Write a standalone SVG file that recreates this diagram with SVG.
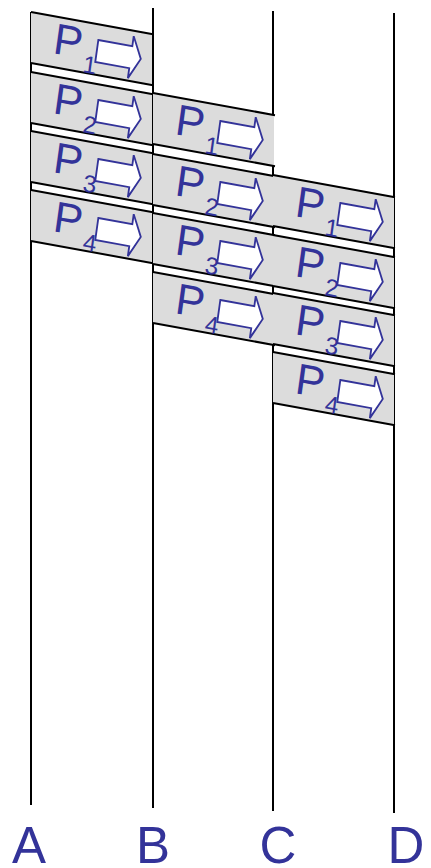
<svg xmlns="http://www.w3.org/2000/svg" xmlns:xlink="http://www.w3.org/1999/xlink" width="431" height="868" viewBox="0 0 431 868">
<style>
.bg{fill:#dcdcdc;stroke:none}
.edge{fill:none;stroke:#000;stroke-width:2}
.lane{stroke:#000;stroke-width:2;fill:none}
.arr{fill:#fff;stroke:#333399;stroke-width:1.8;stroke-linejoin:miter}
.p{font-family:"Liberation Sans",Arial,sans-serif;font-size:43px;fill:#333399}
.s{font-family:"Liberation Sans",Arial,sans-serif;font-size:24px;fill:#333399}
.lbl{font-family:"Liberation Sans",Arial,sans-serif;font-size:51px;fill:#333399;text-anchor:middle}
</style>
<defs>
<g id="pk">
<polygon class="bg" points="0,0 121,22 121,73 0,51"/>
<path class="edge" d="M0,0 L122,22.2 M0,51 L122,73.2"/>
</g>
<polygon id="ar" class="arr" points="0,0 34,0 34,-10 44,11 34,32 34,22 0,22"/>
</defs>
<g id="lanes">
<line class="lane" x1="31" y1="12" x2="31" y2="805"/>
<line class="lane" x1="153" y1="8" x2="153" y2="808"/>
<line class="lane" x1="273" y1="11" x2="273" y2="811"/>
<line class="lane" x1="394" y1="13" x2="394" y2="813"/>
</g>
<g id="A-P1" transform="translate(31,12)"><use xlink:href="#pk"/><g transform="matrix(1,0.18,-0.14,1,0,0)"><text class="p" x="26" y="36.3">P</text><text class="s" x="58" y="49.6">1</text><use xlink:href="#ar" x="69.5" y="15.5"/></g></g>
<g id="A-P2" transform="translate(31,72)"><use xlink:href="#pk"/><g transform="matrix(1,0.18,-0.14,1,0,0)"><text class="p" x="26" y="36.3">P</text><text class="s" x="58" y="49.6">2</text><use xlink:href="#ar" x="69.5" y="15.5"/></g></g>
<g id="A-P3" transform="translate(31,131)"><use xlink:href="#pk"/><g transform="matrix(1,0.18,-0.14,1,0,0)"><text class="p" x="26" y="36.3">P</text><text class="s" x="58" y="49.6">3</text><use xlink:href="#ar" x="69.5" y="15.5"/></g></g>
<g id="A-P4" transform="translate(31,190)"><use xlink:href="#pk"/><g transform="matrix(1,0.18,-0.14,1,0,0)"><text class="p" x="26" y="36.3">P</text><text class="s" x="58" y="49.6">4</text><use xlink:href="#ar" x="69.5" y="15.5"/></g></g>
<g id="B-P1" transform="translate(153,93)"><use xlink:href="#pk"/><g transform="matrix(1,0.18,-0.14,1,0,0)"><text class="p" x="26" y="36.3">P</text><text class="s" x="58" y="49.6">1</text><use xlink:href="#ar" x="69.5" y="15.5"/></g></g>
<g id="B-P2" transform="translate(153,154)"><use xlink:href="#pk"/><g transform="matrix(1,0.18,-0.14,1,0,0)"><text class="p" x="26" y="36.3">P</text><text class="s" x="58" y="49.6">2</text><use xlink:href="#ar" x="69.5" y="15.5"/></g></g>
<g id="B-P3" transform="translate(153,213)"><use xlink:href="#pk"/><g transform="matrix(1,0.18,-0.14,1,0,0)"><text class="p" x="26" y="36.3">P</text><text class="s" x="58" y="49.6">3</text><use xlink:href="#ar" x="69.5" y="15.5"/></g></g>
<g id="B-P4" transform="translate(153,272)"><use xlink:href="#pk"/><g transform="matrix(1,0.18,-0.14,1,0,0)"><text class="p" x="26" y="36.3">P</text><text class="s" x="58" y="49.6">4</text><use xlink:href="#ar" x="69.5" y="15.5"/></g></g>
<g id="C-P1" transform="translate(273,175)"><use xlink:href="#pk"/><g transform="matrix(1,0.18,-0.14,1,0,0)"><text class="p" x="26" y="36.3">P</text><text class="s" x="58" y="49.6">1</text><use xlink:href="#ar" x="69.5" y="15.5"/></g></g>
<g id="C-P2" transform="translate(273,235)"><use xlink:href="#pk"/><g transform="matrix(1,0.18,-0.14,1,0,0)"><text class="p" x="26" y="36.3">P</text><text class="s" x="58" y="49.6">2</text><use xlink:href="#ar" x="69.5" y="15.5"/></g></g>
<g id="C-P3" transform="translate(273,293)"><use xlink:href="#pk"/><g transform="matrix(1,0.18,-0.14,1,0,0)"><text class="p" x="26" y="36.3">P</text><text class="s" x="58" y="49.6">3</text><use xlink:href="#ar" x="69.5" y="15.5"/></g></g>
<g id="C-P4" transform="translate(273,352)"><use xlink:href="#pk"/><g transform="matrix(1,0.18,-0.14,1,0,0)"><text class="p" x="26" y="36.3">P</text><text class="s" x="58" y="49.6">4</text><use xlink:href="#ar" x="69.5" y="15.5"/></g></g>
<g id="labels">
<text class="lbl" x="29" y="863">A</text>
<text class="lbl" x="153" y="863">B</text>
<text class="lbl" x="278" y="863">C</text>
<text class="lbl" x="406" y="863">D</text>
</g>
</svg>
